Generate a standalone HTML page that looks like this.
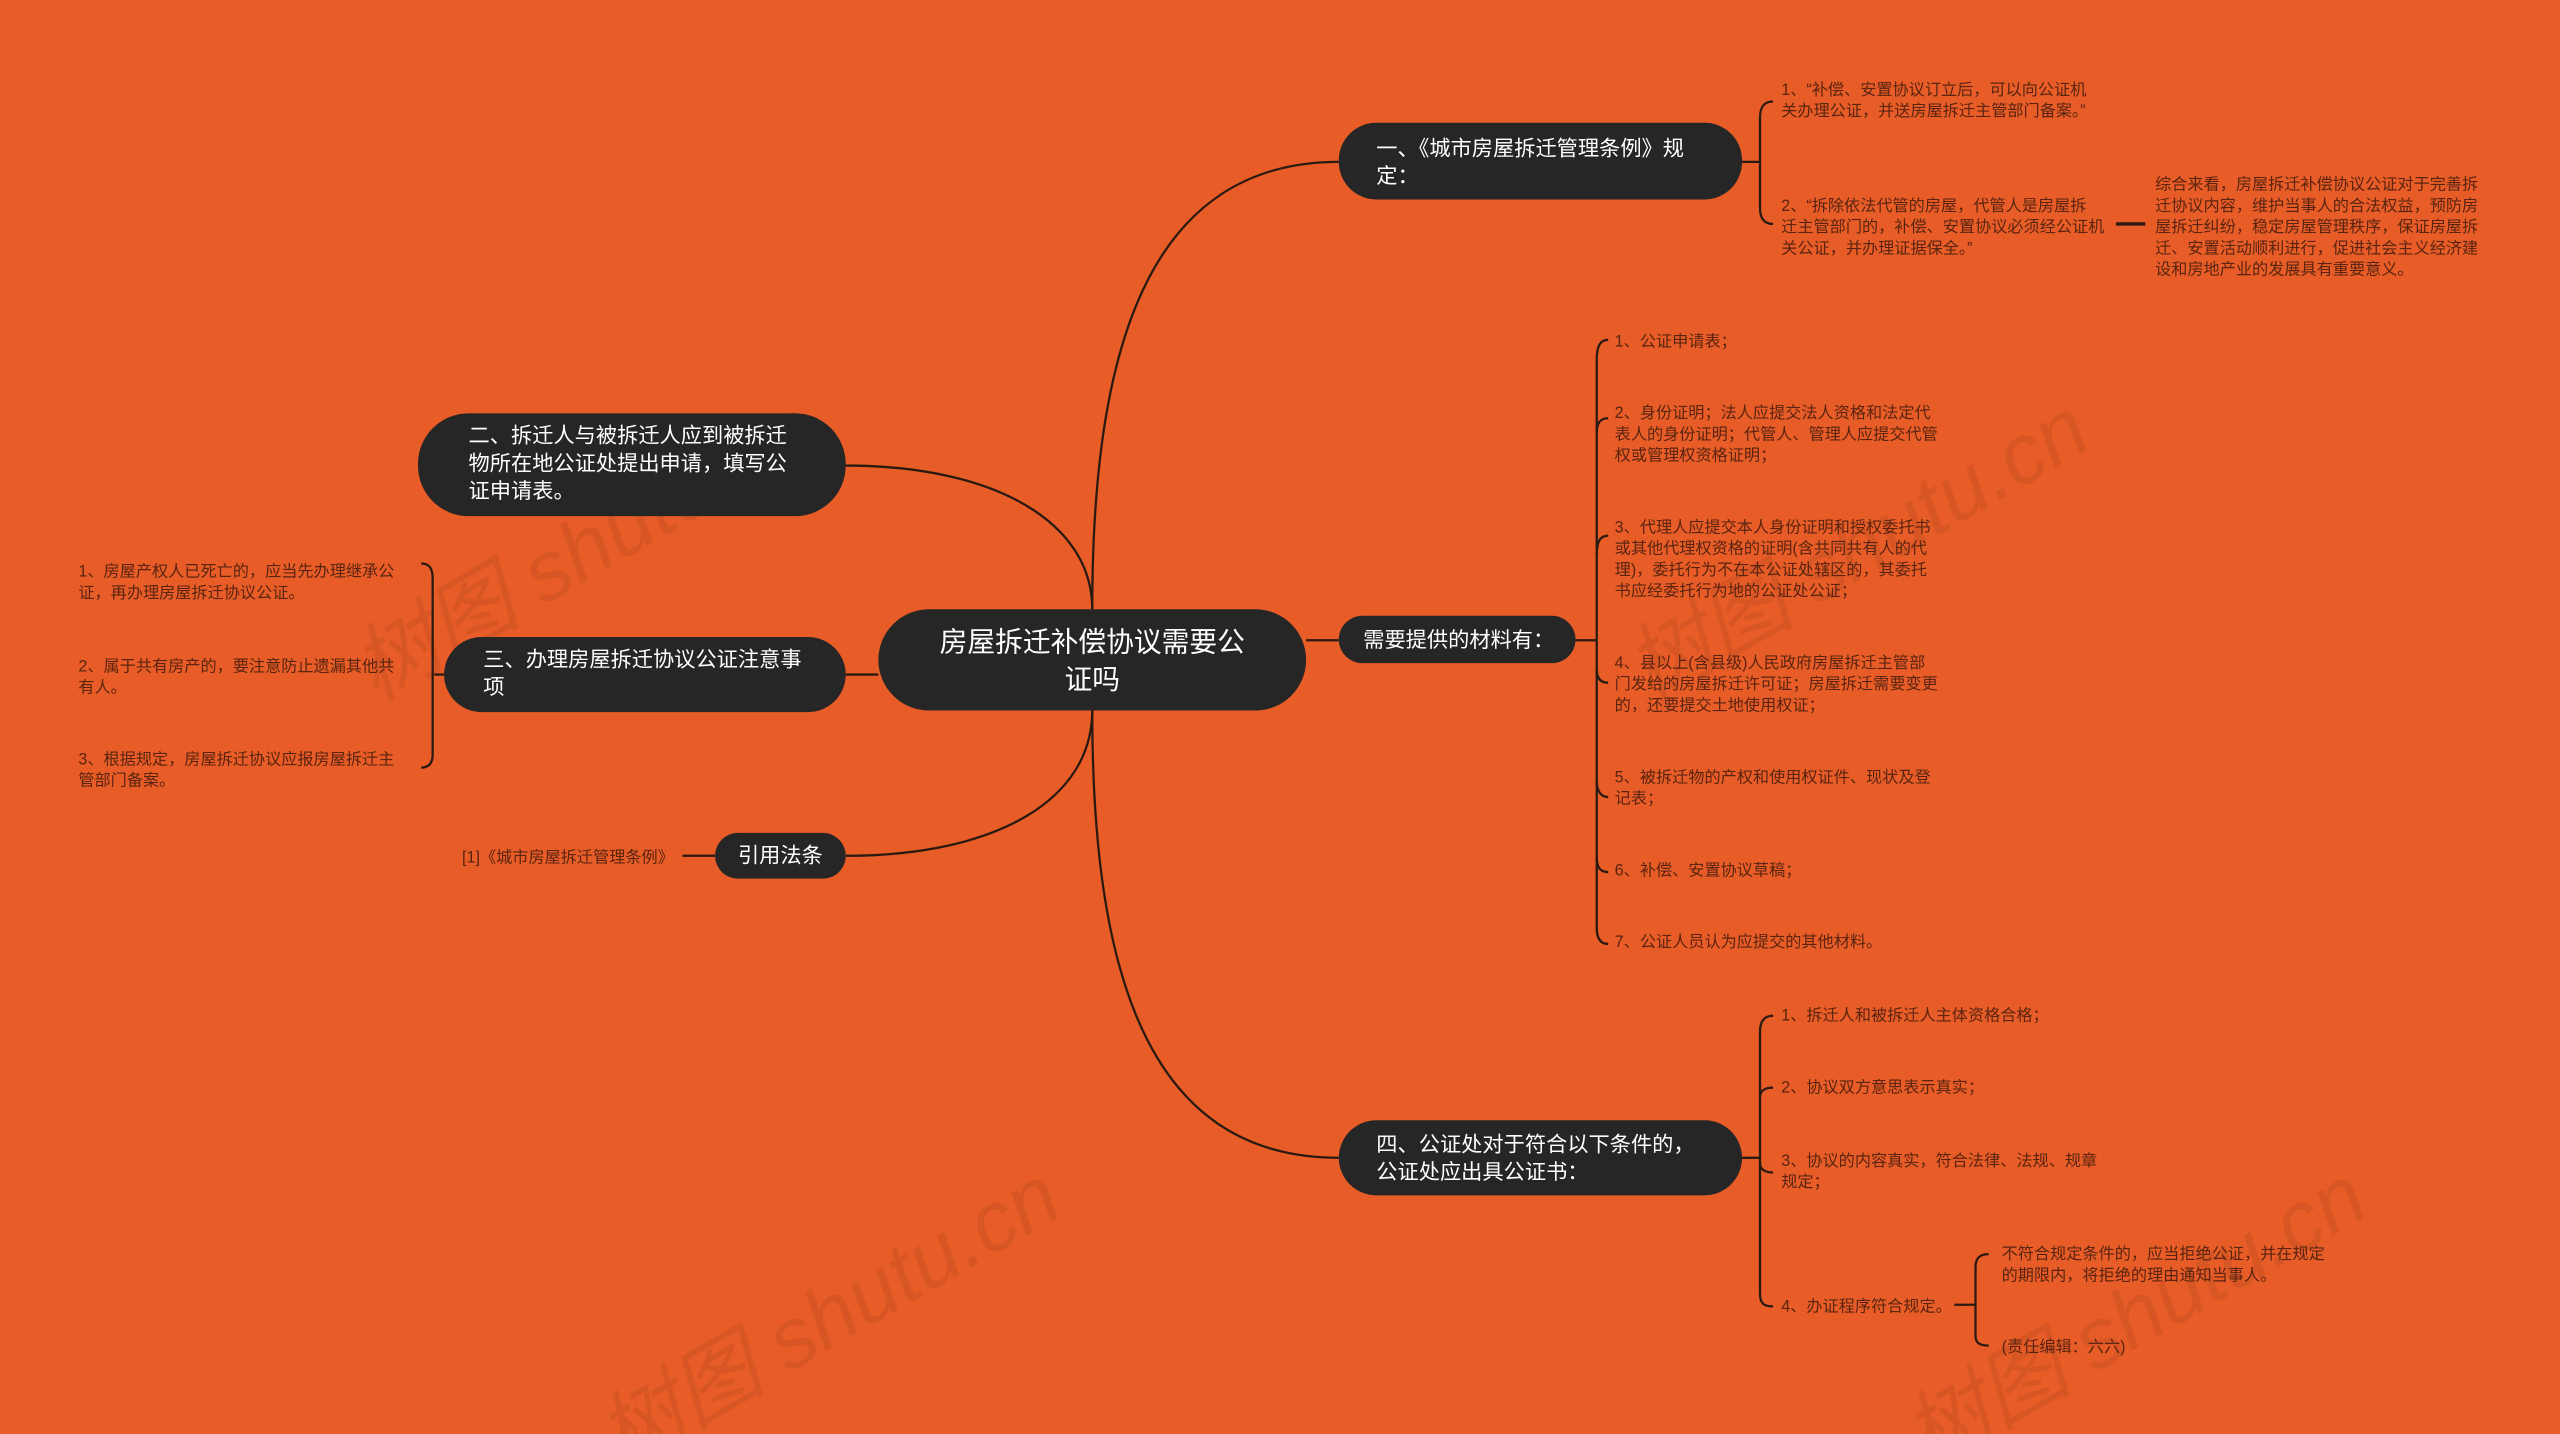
<!DOCTYPE html>
<html><head><meta charset="utf-8"><style>
html,body{margin:0;padding:0;background:#E85D27;}
svg{display:block}
text{font-family:"Liberation Sans","Noto Sans CJK SC",sans-serif;}
.leaf{font-size:9.9px;fill:#5a2410;}
.nd{font-size:13px;fill:#fff;}
.ln{fill:none;stroke:#2a1a12;stroke-width:1.4;}
</style></head><body>
<svg width="2560" height="1434" viewBox="0 0 1568 878" xmlns="http://www.w3.org/2000/svg">
<rect width="1568" height="878" fill="#E85D27"/>
<g font-size="52" fill="#8a3a1a" opacity="0.18" font-style="italic">
<text x="230" y="430" transform="rotate(-30 230 430)">树图 shutu.cn</text>
<text x="1010" y="430" transform="rotate(-30 1010 430)">树图 shutu.cn</text>
<text x="380" y="900" transform="rotate(-30 380 900)">树图 shutu.cn</text>
<text x="1180" y="900" transform="rotate(-30 1180 900)">树图 shutu.cn</text>
</g>
<path class="ln" d="M669 373 C669 220 700 99 820 99"/>
<path class="ln" d="M800 392 L820 392"/>
<path class="ln" d="M669 435 C669 590 700 709 820 709"/>
<path class="ln" d="M669 373 C669 320 610 285 518 285"/>
<path class="ln" d="M518 413 L538 413"/>
<path class="ln" d="M669 435 C669 490 610 524 518 524"/>
<path class="ln" d="M1067 99 L1078 99"/>
<path class="ln" d="M1086 62 C1080 62 1078 66 1078 72 L1078 127 C1078 133 1080 137 1086 137"/>
<path class="ln" d="M1296 137 L1314 137" style="stroke-width:2"/>
<path class="ln" d="M965 392 L978 392"/>
<path class="ln" d="M985 208 C980 208 978 212 978 220 L978 568 C978 574 980 578 985 578"/>
<path class="ln" d="M978 265 C978 258 981 256 985 256 M978 340 C978 330 981 328 985 328 M978 410 C978 416 981 418 985 418 M978 478 C978 485 981 488 985 488 M978 525 C978 532 981 534 985 534"/>
<path class="ln" d="M1067 709 L1078 709"/>
<path class="ln" d="M1086 622 C1080 622 1078 626 1078 632 L1078 792 C1078 798 1080 800 1086 800"/>
<path class="ln" d="M1078 672 C1078 668 1081 666 1086 666 M1078 712 C1078 716 1081 718 1086 718"/>
<path class="ln" d="M1197 799 L1210 799"/>
<path class="ln" d="M1218 768 C1212 768 1210 771 1210 776 L1210 818 C1210 822 1212 824 1218 824"/>
<path class="ln" d="M266 413 L272 413"/>
<path class="ln" d="M258 345 C263 345 265 348 265 354 L265 462 C265 467 263 470 258 470"/>
<path class="ln" d="M418 524 L438 524"/>
<rect x="538" y="373" width="262" height="62" rx="31" fill="#262626"/>
<text x="669" y="399" text-anchor="middle" font-size="17" fill="#fff">房屋拆迁补偿协议需要公</text>
<text x="669" y="422" text-anchor="middle" font-size="17" fill="#fff">证吗</text>
<rect x="820" y="75" width="247" height="47" rx="23" fill="#262626"/>
<text class="nd" x="843" y="95">一、《城市房屋拆迁管理条例》规</text>
<text class="nd" x="843" y="112">定：</text>
<rect x="820" y="377" width="145" height="29" rx="14.5" fill="#262626"/>
<text class="nd" x="835" y="396">需要提供的材料有：</text>
<rect x="820" y="686" width="247" height="46" rx="23" fill="#262626"/>
<text class="nd" x="843" y="705">四、公证处对于符合以下条件的，</text>
<text class="nd" x="843" y="722">公证处应出具公证书：</text>
<rect x="256" y="253" width="262" height="63" rx="31" fill="#262626"/>
<text class="nd" x="287" y="271">二、拆迁人与被拆迁人应到被拆迁</text>
<text class="nd" x="287" y="288">物所在地公证处提出申请，填写公</text>
<text class="nd" x="287" y="305">证申请表。</text>
<rect x="272" y="390" width="246" height="46" rx="23" fill="#262626"/>
<text class="nd" x="296" y="408">三、办理房屋拆迁协议公证注意事</text>
<text class="nd" x="296" y="425">项</text>
<rect x="438" y="510" width="80" height="28" rx="14" fill="#262626"/>
<text class="nd" x="478" y="528" text-anchor="middle">引用法条</text>
<g class="leaf">
<text x="1091" y="58">1、“补偿、安置协议订立后，可以向公证机</text>
<text x="1091" y="71">关办理公证，并送房屋拆迁主管部门备案。”</text>
<text x="1091" y="129">2、“拆除依法代管的房屋，代管人是房屋拆</text>
<text x="1091" y="142">迁主管部门的，补偿、安置协议必须经公证机</text>
<text x="1091" y="155">关公证，并办理证据保全。”</text>
<text x="1320" y="116">综合来看，房屋拆迁补偿协议公证对于完善拆</text>
<text x="1320" y="129">迁协议内容，维护当事人的合法权益，预防房</text>
<text x="1320" y="142">屋拆迁纠纷，稳定房屋管理秩序，保证房屋拆</text>
<text x="1320" y="155">迁、安置活动顺利进行，促进社会主义经济建</text>
<text x="1320" y="168">设和房地产业的发展具有重要意义。</text>
<text x="989" y="212">1、公证申请表；</text>
<text x="989" y="256">2、身份证明；法人应提交法人资格和法定代</text>
<text x="989" y="269">表人的身份证明；代管人、管理人应提交代管</text>
<text x="989" y="282">权或管理权资格证明；</text>
<text x="989" y="326">3、代理人应提交本人身份证明和授权委托书</text>
<text x="989" y="339">或其他代理权资格的证明(含共同共有人的代</text>
<text x="989" y="352">理)，委托行为不在本公证处辖区的，其委托</text>
<text x="989" y="365">书应经委托行为地的公证处公证；</text>
<text x="989" y="409">4、县以上(含县级)人民政府房屋拆迁主管部</text>
<text x="989" y="422">门发给的房屋拆迁许可证；房屋拆迁需要变更</text>
<text x="989" y="435">的，还要提交土地使用权证；</text>
<text x="989" y="479">5、被拆迁物的产权和使用权证件、现状及登</text>
<text x="989" y="492">记表；</text>
<text x="989" y="536">6、补偿、安置协议草稿；</text>
<text x="989" y="580">7、公证人员认为应提交的其他材料。</text>
<text x="1091" y="625">1、拆迁人和被拆迁人主体资格合格；</text>
<text x="1091" y="669">2、协议双方意思表示真实；</text>
<text x="1091" y="714">3、协议的内容真实，符合法律、法规、规章</text>
<text x="1091" y="727">规定；</text>
<text x="1091" y="803">4、办证程序符合规定。</text>
<text x="1226" y="771">不符合规定条件的，应当拒绝公证，并在规定</text>
<text x="1226" y="784">的期限内，将拒绝的理由通知当事人。</text>
<text x="1226" y="828">(责任编辑：六六)</text>
<text x="48" y="353">1、房屋产权人已死亡的，应当先办理继承公</text>
<text x="48" y="366">证，再办理房屋拆迁协议公证。</text>
<text x="48" y="411">2、属于共有房产的，要注意防止遗漏其他共</text>
<text x="48" y="424">有人。</text>
<text x="48" y="468">3、根据规定，房屋拆迁协议应报房屋拆迁主</text>
<text x="48" y="481">管部门备案。</text>
<text x="283" y="528">[1]《城市房屋拆迁管理条例》</text>
</g>
</svg>
</body></html>
